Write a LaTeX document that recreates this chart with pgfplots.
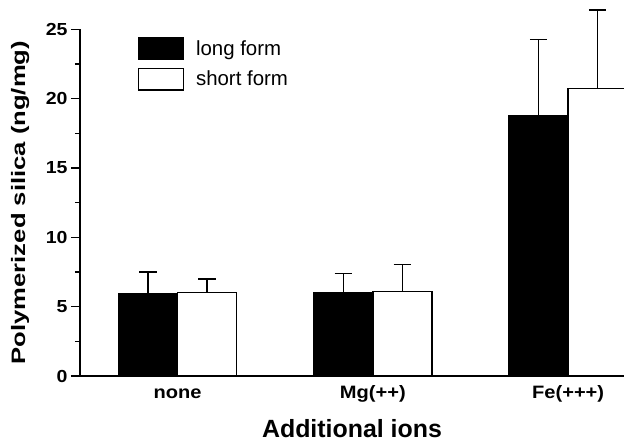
\documentclass[border=0pt]{standalone}
\usepackage{fontspec}
\setmainfont{Liberation Sans}
\newfontfamily\widefont[FakeStretch=1.12]{Liberation Sans}
\newfontfamily\ylabfont[FakeStretch=1.32]{Liberation Sans}
\usepackage{pgfplots}
\pgfplotsset{compat=1.18}
\begin{document}
\begin{tikzpicture}
\begin{axis}[
  scale only axis, width=544bp, height=346.7bp,
  xmin=-0.5, xmax=2.286, ymin=0, ymax=25,
  axis x line=bottom, axis y line=left,
  axis line style={-, line width=1.8bp, black},
  clip=false,
  ybar=0pt, bar width=0.302,
  xtick={0,1,2}, xticklabels={none,Mg(++),Fe(+++)},
  x tick style={draw=none},
  ytick={0,5,10,15,20,25},
  minor y tick num=1,
  y tick style={line width=1.4bp, black},
  tick align=outside,
  major tick length=9bp, minor tick length=5bp,
  /pgf/number format/assume math mode=true,
  yticklabel style={font=\widefont\bfseries\fontsize{17.5}{17.5}\selectfont},
  xticklabel style={font=\widefont\bfseries\fontsize{18}{18}\selectfont, anchor=base, yshift=-13bp},
  xlabel={Additional ions},
  xlabel style={font=\bfseries\fontsize{25}{25}\selectfont, at={(axis description cs:0.5,-0.1788)}, anchor=base},
  ylabel={Polymerized silica (ng/mg)},
  ylabel style={font=\ylabfont\bfseries\fontsize{19.5}{19.5}\selectfont, at={(axis description cs:-0.101,0.5)}, anchor=base},
  legend style={draw=none, fill=none, at={(axis description cs:0.106,0.977)}, anchor=north west,
    inner sep=0pt, outer sep=0pt, row sep=7.3bp, column sep=10bp,
    font=\fontsize{20.5}{20.5}\selectfont},
  legend cell align=left,
]
\addplot[fill=black, draw=black, line width=1.4bp,
  legend image code/.code={\draw[fill=black, draw=black, line width=1.4bp] (0bp,-10.8bp) rectangle (45bp,10.8bp);},
  error bars/.cd, y dir=plus, y explicit,
  error bar style={line width=1.6bp, black},
  error mark options={black, line width=1.6bp, mark size=8.8bp, rotate=90}]
  coordinates {(0,5.91) +- (0,1.57) (1,6.0) +- (0,1.40) (2,18.77) +- (0,5.48)};
\addlegendentry{long form}
\addplot[fill=white, draw=black, line width=1.4bp,
  legend image code/.code={\draw[fill=white, draw=black, line width=1.4bp] (0bp,-10.8bp) rectangle (45bp,10.8bp);},
  error bars/.cd, y dir=plus, y explicit,
  error bar style={line width=1.6bp, black},
  error mark options={black, line width=1.6bp, mark size=8.8bp, rotate=90}]
  coordinates {(0,6.0) +- (0,0.99) (1,6.1) +- (0,1.93) (2,20.74) +- (0,5.65)};
\addlegendentry{short form}
\end{axis}
\pgfresetboundingbox
\path[use as bounding box] (-80bp,-66bp) rectangle (544bp,376bp);
\end{tikzpicture}
\end{document}
